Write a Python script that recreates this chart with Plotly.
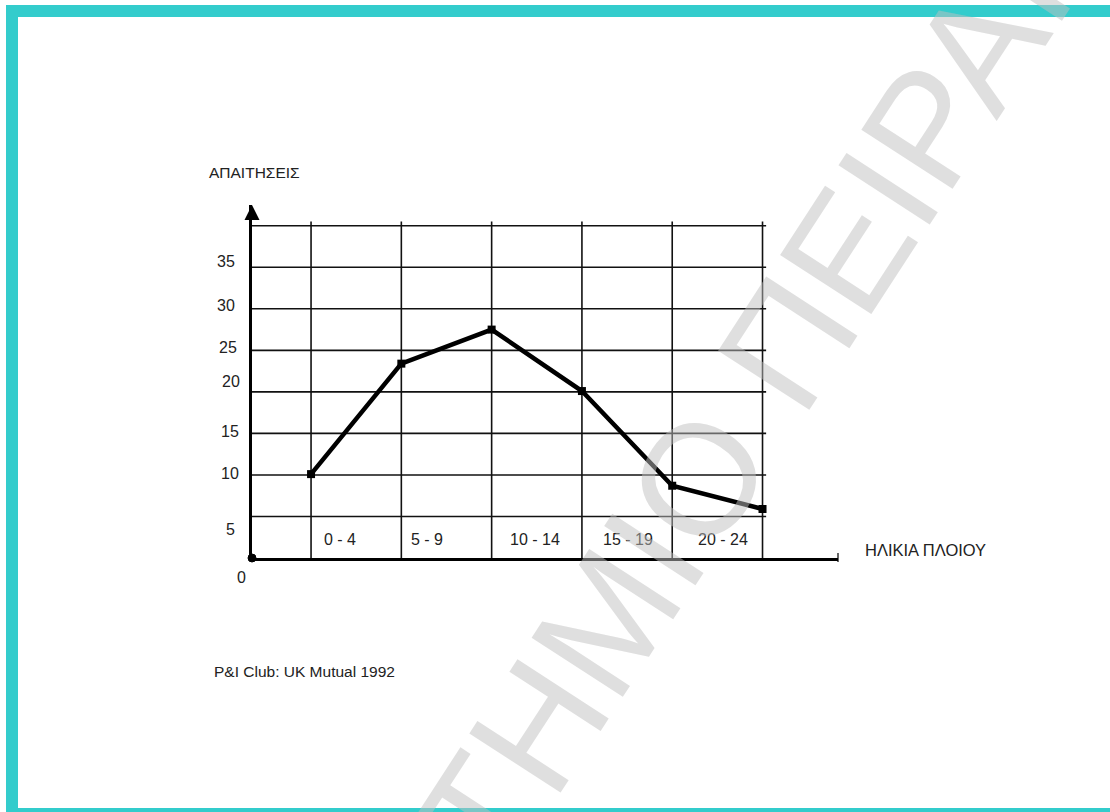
import plotly.graph_objects as go

# ---------------- data ----------------
age_bounds = [0, 5, 10, 15, 20, 25]                 # ship age (years) at grid lines
claims = [10.1, 23.4, 27.5, 20.1, 8.7, 5.9]          # number of claims
age_groups = ["0 - 4", "5 - 9", "10 - 14", "15 - 19", "20 - 24"]
y_tick_labels = ["35", "30", "25", "20", "15", "10", "5", "0"]
y_grid_values = [5, 10, 15, 20, 25, 30, 35, 40]

# ---------------- layout constants (pixels / styling) ----------------
W, H = 1110, 812
L, R, T, B = 252, 272, 205, 254
X_RANGE = [-3.27, 29.18]
Y_RANGE = [0, 42.5]
INK = "#111111"
TEXT = "#222222"
FONT = "Liberation Sans, Arial, sans-serif"

# where the y labels sit (the original labels are slightly off the grid)
y_label_pos = [35.7, 30.4, 25.3, 21.2, 15.2, 10.2, 3.4, -2.4]
y_label_px = [226, 226, 228, 231, 230, 230, 230, 241]
cat_xshift = [-16, -19, -2, 1, 6]
cat_y = 2.2

PW, PH = W - L - R, H - T - B


def pxx(px):
    return (px - L) / PW


def pxy(py):
    return (H - B - py) / PH


def yval_paper(v):
    return (v - Y_RANGE[0]) / (Y_RANGE[1] - Y_RANGE[0])


fig = go.Figure()

fig.add_trace(go.Scatter(
    x=age_bounds, y=claims, mode="lines+markers",
    line=dict(color="black", width=4.5),
    marker=dict(symbol="square", size=8, color="black"),
    showlegend=False, cliponaxis=False, hoverinfo="skip",
))

shapes = []
# horizontal grid lines
for v in y_grid_values:
    shapes.append(dict(type="line", xref="x", yref="y",
                       x0=X_RANGE[0], x1=age_bounds[-1] + 0.2, y0=v, y1=v,
                       line=dict(color=INK, width=1.6), layer="below"))
# vertical grid lines
for a in age_bounds:
    shapes.append(dict(type="line", xref="x", yref="y",
                       x0=a, x1=a, y0=0, y1=y_grid_values[-1] + 0.5,
                       line=dict(color=INK, width=1.6), layer="below"))
# origin dot
shapes.append(dict(type="circle", xref="paper", yref="paper",
                   x0=pxx(248), x1=pxx(256), y0=pxy(554), y1=pxy(562),
                   fillcolor="black", line=dict(color="black", width=1)))
# small end tick on x axis
shapes.append(dict(type="line", xref="paper", yref="paper",
                   x0=1, x1=1, y0=pxy(553), y1=pxy(562),
                   line=dict(color="black", width=1.2)))
# teal frame
teal = "#33CCCC"
shapes.append(dict(type="rect", xref="paper", yref="paper", layer="above",
                   x0=pxx(6), x1=pxx(1120), y0=pxy(5), y1=pxy(17),
                   fillcolor=teal, line=dict(width=0)))
shapes.append(dict(type="rect", xref="paper", yref="paper", layer="above",
                   x0=pxx(6), x1=pxx(18), y0=pxy(5), y1=pxy(820),
                   fillcolor=teal, line=dict(width=0)))
shapes.append(dict(type="rect", xref="paper", yref="paper", layer="above",
                   x0=pxx(6), x1=pxx(1120), y0=pxy(808), y1=pxy(820),
                   fillcolor=teal, line=dict(width=0)))

annotations = []
# y axis arrow head
annotations.append(dict(xref="paper", yref="paper", x=0, y=1, ax=0, ay=16,
                        text="", showarrow=True, arrowhead=2, arrowsize=1.2,
                        arrowwidth=2.5, arrowcolor="black"))
# y tick labels
for lab, yv, px in zip(y_tick_labels, y_label_pos, y_label_px):
    annotations.append(dict(xref="paper", yref="paper", x=pxx(px), y=yval_paper(yv),
                            text=lab, showarrow=False,
                            xanchor="center", yanchor="middle",
                            font=dict(family=FONT, size=16, color=TEXT)))
# age group labels
for i, lab in enumerate(age_groups):
    mid = (age_bounds[i] + age_bounds[i + 1]) / 2
    annotations.append(dict(xref="x", yref="y", x=mid, y=cat_y, text=lab,
                            xshift=cat_xshift[i], showarrow=False,
                            xanchor="center", yanchor="middle",
                            font=dict(family=FONT, size=16, color=TEXT)))
# axis titles and source
annotations.append(dict(xref="paper", yref="paper", x=pxx(254), y=pxy(172),
                        text="ΑΠΑΙΤΗΣΕΙΣ", showarrow=False,
                        xanchor="center", yanchor="middle",
                        font=dict(family=FONT, size=15.5, color=TEXT)))
annotations.append(dict(xref="paper", yref="paper", x=pxx(863), y=pxy(550),
                        text="ΗΛΙΚΙΑ ΠΛΟΙΟΥ", showarrow=False,
                        xanchor="left", yanchor="middle",
                        font=dict(family=FONT, size=16.5, color=TEXT)))
annotations.append(dict(xref="paper", yref="paper", x=pxx(212), y=pxy(671),
                        text="P&I Club: UK Mutual 1992", showarrow=False,
                        xanchor="left", yanchor="middle",
                        font=dict(family=FONT, size=15.5, color=TEXT)))
# watermark
annotations.append(dict(xref="paper", yref="paper", x=pxx(613), y=pxy(611),
                        text="ΠΑΝΕΠΙΣΤΗΜΙΟ ΠΕΙΡΑΙΩΣ", showarrow=False,
                        textangle=-57, xanchor="center", yanchor="middle",
                        font=dict(family=FONT, size=158,
                                  color="rgba(192,192,192,0.5)")))

fig.update_layout(
    width=W, height=H,
    margin=dict(l=L, r=R, t=T, b=B, pad=0),
    paper_bgcolor="white", plot_bgcolor="white",
    hovermode=False,
    xaxis=dict(range=X_RANGE, showline=True, linecolor="black", linewidth=3,
               showgrid=False, zeroline=False, showticklabels=False, ticks=""),
    yaxis=dict(range=Y_RANGE, showline=True, linecolor="black", linewidth=3,
               showgrid=False, zeroline=False, showticklabels=False, ticks=""),
    shapes=shapes, annotations=annotations,
)

fig.write_html("out.html", config={"displayModeBar": False},
               post_script="document.body.style.margin='0';")
